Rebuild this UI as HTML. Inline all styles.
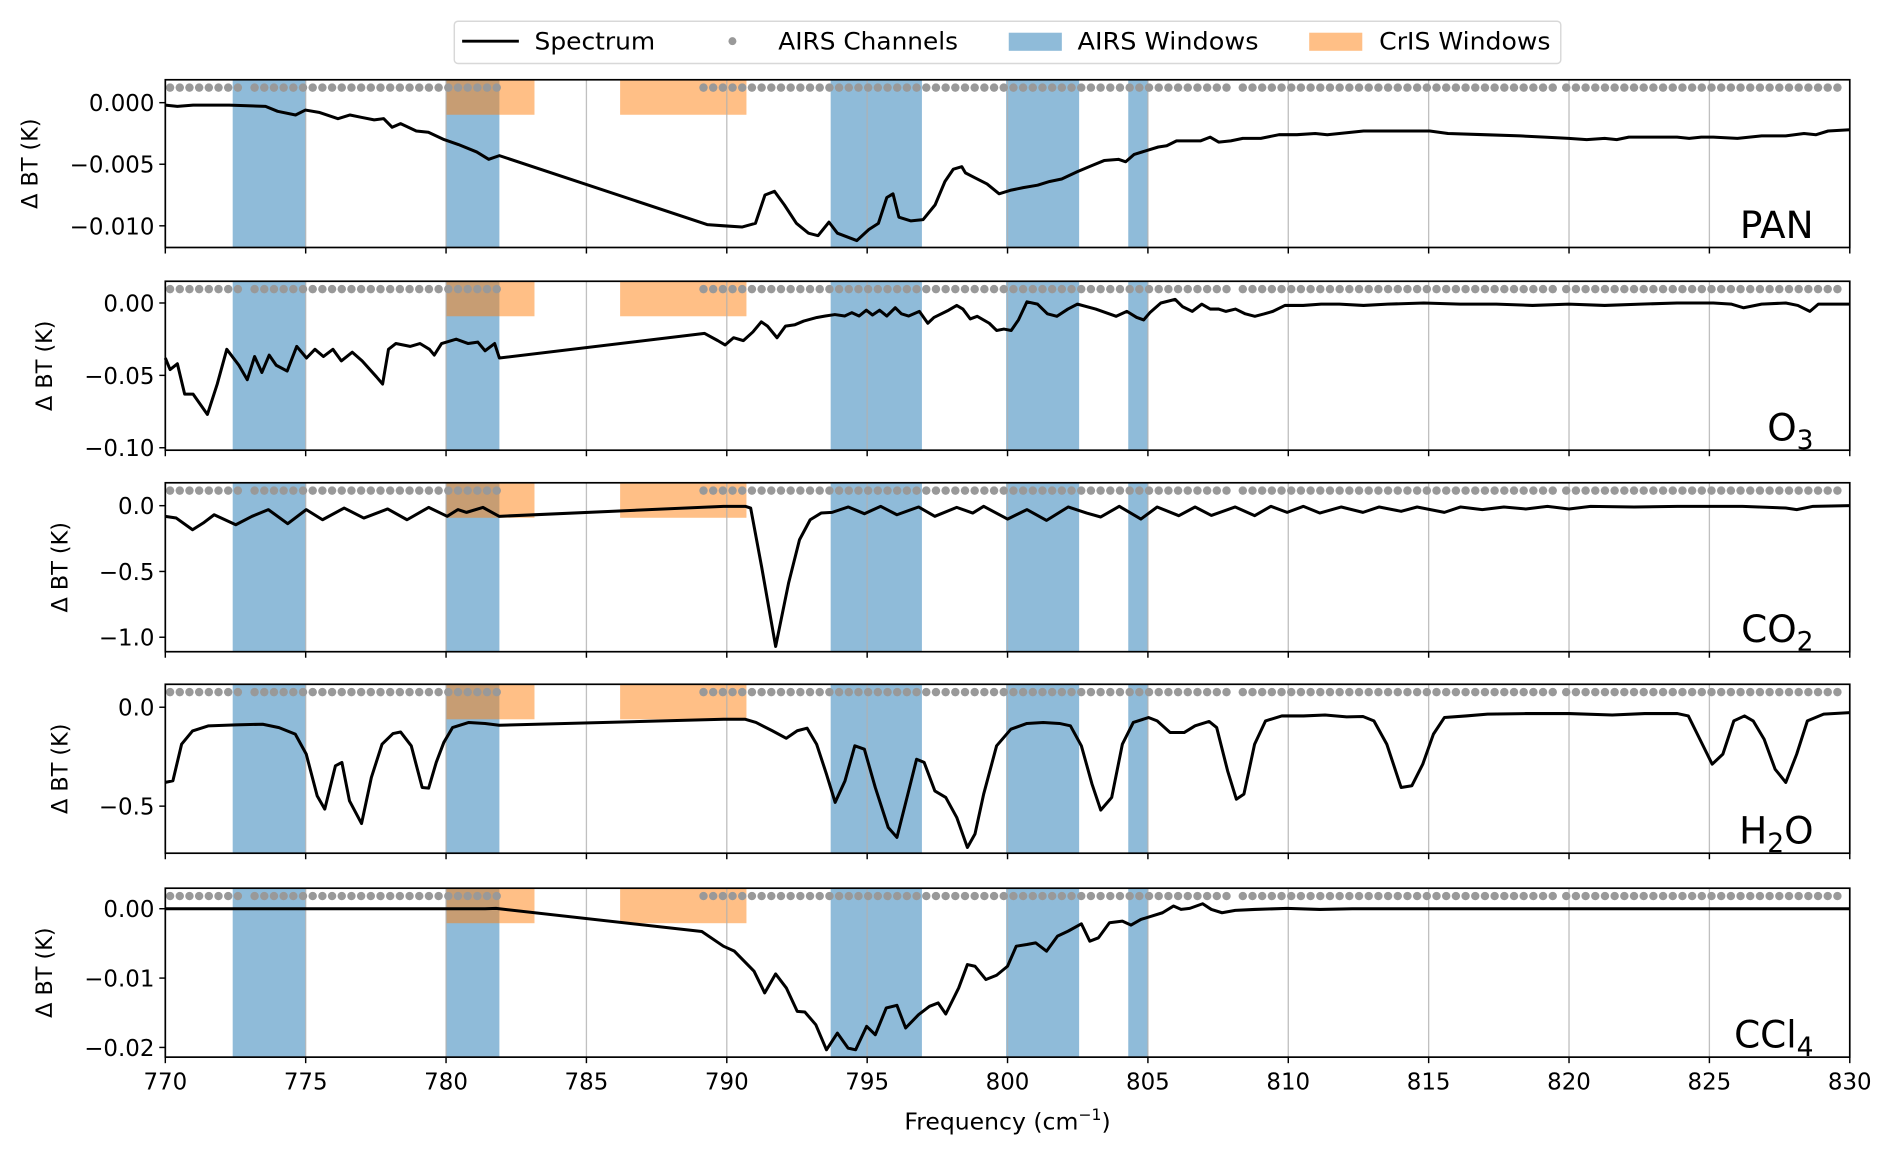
<!DOCTYPE html>
<html><head><meta charset="utf-8">
<style>
html,body{margin:0;padding:0;background:#fff;}
svg{display:block;font-family:"DejaVu Sans","Liberation Sans",sans-serif;}
</style></head>
<body>
<svg id="chart" width="1892" height="1155" viewBox="0 0 1568 957" xmlns="http://www.w3.org/2000/svg">
  <g id="legend">
    <rect x="376.5" y="17.5" width="917" height="35" rx="3" fill="#fff" stroke="#d8d8d8" stroke-width="1.2"/>
    <g>
      <line x1="383" y1="34" x2="430" y2="34" stroke="#000" stroke-width="2.4"/>
      <text x="443" y="41" font-size="20" textLength="100" lengthAdjust="spacingAndGlyphs">Spectrum</text>
    </g>
    <g>
      <circle cx="607" cy="34" r="3.3" fill="#999"/>
      <text x="645" y="41" font-size="20" textLength="149" lengthAdjust="spacingAndGlyphs">AIRS Channels</text>
    </g>
    <g>
      <rect x="836" y="27" width="44" height="15" fill="#8fbbd9"/>
      <text x="893" y="41" font-size="20" textLength="150" lengthAdjust="spacingAndGlyphs">AIRS Windows</text>
    </g>
    <g>
      <rect x="1085" y="27" width="44" height="15" fill="#ffbf86"/>
      <text x="1143" y="41" font-size="20" textLength="142" lengthAdjust="spacingAndGlyphs">CrIS Windows</text>
    </g>
  </g>
  <g id="panels"></g>
  <text x="835" y="936" font-size="19.5" text-anchor="middle">Frequency (cm<tspan font-size="13" dy="-8">−1</tspan><tspan dy="8">)</tspan></text>
</svg>
<script>
// ---------- data ----------
const xTicks = [770,775,780,785,790,795,800,805,810,815,820,825,830];
const airsWindows = [[772.4,775.0],[780.0,781.9],[793.7,796.95],[799.95,802.55],[804.3,805.0]];
const crisWindows = [[780.0,783.15],[786.2,790.7]];
const channelRanges = [[770.17,772.6,0.345],[773.18,781.9,0.345],[789.17,807.82,0.345],[808.38,819.47,0.345],[819.9,829.9,0.345]];

const panFreq = [770.0,770.43,770.99,772.28,773.57,774.0,774.64,774.99,775.5,776.15,776.58,777.0,777.44,777.78,778.08,778.38,778.94,779.37,779.93,780.44,781.09,781.52,781.9,789.3,789.9,790.54,791.02,791.36,791.7,792.05,792.48,792.91,793.25,793.64,793.94,794.63,795.06,795.4,795.7,795.92,796.13,796.56,796.99,797.42,797.77,798.07,798.37,798.5,798.84,799.27,799.7,800.13,800.56,801.07,801.5,801.93,802.49,803.01,803.44,803.95,804.21,804.51,804.94,805.37,805.67,806.02,806.45,806.88,807.22,807.52,807.95,808.38,809.02,809.67,810.31,810.96,811.39,811.82,812.25,812.68,813.54,815.04,815.69,816.98,818.27,819.13,819.99,820.63,821.27,821.7,822.13,822.99,823.85,824.28,824.71,825.14,826.0,826.86,827.72,828.37,828.8,829.23,830.0];
const panVals = [-0.0002,-0.0003,-0.0002,-0.0002,-0.0003,-0.0007,-0.001,-0.0006,-0.0008,-0.0013,-0.001,-0.0012,-0.0014,-0.0013,-0.002,-0.0017,-0.0023,-0.0024,-0.003,-0.0034,-0.004,-0.0046,-0.0043,-0.0099,-0.01,-0.0101,-0.0098,-0.0075,-0.0072,-0.0083,-0.0098,-0.0106,-0.0108,-0.0097,-0.0106,-0.0112,-0.0103,-0.0098,-0.0077,-0.0074,-0.0093,-0.0096,-0.0095,-0.0083,-0.0064,-0.0054,-0.0052,-0.0057,-0.0061,-0.0066,-0.0074,-0.0071,-0.0069,-0.0067,-0.0064,-0.0062,-0.0056,-0.0051,-0.0047,-0.0046,-0.0048,-0.0042,-0.0039,-0.0036,-0.0035,-0.0031,-0.0031,-0.0031,-0.0028,-0.0032,-0.0031,-0.0029,-0.0029,-0.0026,-0.0026,-0.0025,-0.0026,-0.0025,-0.0024,-0.0023,-0.0023,-0.0023,-0.0025,-0.0026,-0.0027,-0.0028,-0.0029,-0.003,-0.0029,-0.003,-0.0028,-0.0028,-0.0028,-0.0029,-0.0028,-0.0028,-0.0029,-0.0027,-0.0027,-0.0025,-0.0026,-0.0023,-0.0022];

const o3Freq = [770.0,770.17,770.43,770.69,770.99,771.5,771.85,772.19,772.62,772.92,773.18,773.44,773.7,773.95,774.34,774.68,775.03,775.33,775.63,775.97,776.27,776.66,777.01,777.52,777.74,777.95,778.21,778.72,779.07,779.41,779.58,779.84,780.36,780.79,781.13,781.39,781.73,781.9,789.21,789.68,789.94,790.24,790.59,790.93,791.23,791.45,791.79,792.09,792.43,792.74,793.21,793.51,793.85,794.2,794.45,794.71,794.97,795.19,795.44,795.7,796.0,796.22,796.48,796.86,797.16,797.38,797.9,798.19,798.41,798.67,798.92,799.35,799.61,799.87,800.13,800.39,800.69,801.07,801.42,801.76,802.15,802.49,803.14,803.87,804.25,804.6,804.85,805.07,805.46,805.97,806.23,806.58,806.92,807.22,807.52,807.78,808.12,808.47,808.81,809.15,809.45,809.88,810.53,811.17,811.82,812.68,813.54,814.83,816.12,817.41,818.7,819.99,821.27,822.56,823.85,825.14,825.79,826.22,826.86,827.72,828.15,828.58,828.88,830.0];
const o3Vals = [-0.038,-0.046,-0.042,-0.063,-0.063,-0.077,-0.056,-0.032,-0.043,-0.053,-0.037,-0.048,-0.036,-0.043,-0.047,-0.03,-0.038,-0.032,-0.037,-0.032,-0.04,-0.034,-0.04,-0.051,-0.056,-0.032,-0.028,-0.03,-0.028,-0.032,-0.036,-0.028,-0.025,-0.028,-0.027,-0.033,-0.028,-0.038,-0.021,-0.026,-0.029,-0.024,-0.026,-0.02,-0.013,-0.016,-0.024,-0.016,-0.015,-0.0125,-0.01,-0.009,-0.008,-0.009,-0.0067,-0.009,-0.005,-0.0083,-0.005,-0.009,-0.0033,-0.0075,-0.009,-0.0058,-0.014,-0.01,-0.005,-0.0017,-0.0042,-0.011,-0.0092,-0.014,-0.019,-0.018,-0.019,-0.0117,0.0008,-0.0008,-0.0075,-0.0092,-0.0042,-0.0008,-0.0042,-0.0092,-0.0058,-0.01,-0.0117,-0.0067,0.0,0.0025,-0.0025,-0.0058,-0.0008,-0.0042,-0.0042,-0.0058,-0.0042,-0.0075,-0.0092,-0.0075,-0.0058,-0.0017,-0.0017,-0.0008,-0.0008,-0.0017,-0.0008,0.0,-0.0008,-0.0008,-0.0017,-0.0008,-0.0017,-0.0008,0.0,0.0,-0.0008,-0.0033,-0.0008,0.0,-0.0017,-0.0058,-0.0008,-0.0008];

const co2Freq = [770.0,770.39,770.97,771.35,771.74,772.51,773.09,773.67,774.36,775.02,775.6,776.37,777.07,777.92,778.61,779.38,780.04,780.42,780.73,781.31,781.89,789.88,790.66,790.85,791.24,791.74,792.2,792.59,792.97,793.36,793.75,794.33,794.9,795.48,796.06,796.83,797.41,798.19,798.76,799.15,800.0,800.69,801.39,802.16,802.82,803.32,803.98,804.75,805.33,806.1,806.68,807.26,808.11,808.8,809.38,809.96,810.54,811.12,811.89,812.66,813.24,814.02,814.59,815.56,816.14,816.91,817.68,818.46,819.23,820.0,820.77,822.32,823.86,826.18,827.72,828.11,828.69,830.0];
const co2Vals = [-0.081,-0.094,-0.183,-0.132,-0.069,-0.145,-0.081,-0.03,-0.137,-0.03,-0.107,-0.018,-0.094,-0.025,-0.107,-0.013,-0.081,-0.03,-0.051,-0.013,-0.081,-0.005,-0.005,-0.018,-0.464,-1.07,-0.589,-0.259,-0.107,-0.056,-0.051,-0.01,-0.061,-0.005,-0.069,-0.01,-0.081,-0.013,-0.056,-0.005,-0.102,-0.03,-0.112,-0.01,-0.056,-0.086,-0.005,-0.102,-0.01,-0.076,-0.01,-0.074,-0.01,-0.076,-0.005,-0.051,-0.005,-0.056,-0.01,-0.051,-0.01,-0.043,-0.01,-0.051,-0.01,-0.03,-0.01,-0.025,-0.005,-0.025,-0.005,-0.01,-0.005,-0.005,-0.018,-0.03,-0.005,0.0];

const h2oFreq = [770.0,770.27,770.58,770.97,771.54,772.51,773.47,774.05,774.63,775.02,775.41,775.68,776.06,776.29,776.56,776.99,777.34,777.72,778.11,778.38,778.76,779.15,779.38,779.65,779.92,780.23,780.81,781.39,781.89,789.88,790.66,791.04,791.62,792.12,792.51,792.86,793.2,793.55,793.86,794.21,794.56,794.9,795.29,795.75,796.06,796.45,796.76,797.03,797.41,797.8,798.19,798.57,798.84,799.15,799.61,800.12,800.69,801.27,801.85,802.24,802.63,803.01,803.32,803.71,804.09,804.48,805.02,805.33,805.79,806.29,806.68,807.18,807.45,807.84,808.15,808.42,808.8,809.19,809.77,810.54,811.31,812.08,812.66,813.05,813.51,814.02,814.4,814.79,815.17,815.56,816.33,817.1,818.46,820.0,821.54,822.7,823.86,824.25,824.63,825.1,825.48,825.87,826.25,826.56,826.95,827.34,827.72,828.11,828.49,829.07,830.0];
const h2oVals = [-0.38,-0.372,-0.187,-0.12,-0.094,-0.089,-0.086,-0.103,-0.136,-0.237,-0.448,-0.515,-0.296,-0.279,-0.473,-0.588,-0.355,-0.187,-0.133,-0.125,-0.195,-0.406,-0.409,-0.279,-0.178,-0.103,-0.077,-0.082,-0.091,-0.061,-0.061,-0.077,-0.119,-0.157,-0.119,-0.106,-0.187,-0.338,-0.481,-0.372,-0.195,-0.212,-0.406,-0.608,-0.658,-0.439,-0.263,-0.279,-0.423,-0.456,-0.557,-0.709,-0.641,-0.439,-0.195,-0.111,-0.082,-0.077,-0.082,-0.094,-0.195,-0.389,-0.52,-0.456,-0.187,-0.077,-0.052,-0.069,-0.128,-0.128,-0.094,-0.072,-0.103,-0.322,-0.465,-0.439,-0.187,-0.069,-0.044,-0.044,-0.039,-0.049,-0.047,-0.069,-0.187,-0.406,-0.397,-0.288,-0.136,-0.052,-0.044,-0.035,-0.032,-0.032,-0.039,-0.032,-0.032,-0.044,-0.153,-0.288,-0.237,-0.069,-0.044,-0.069,-0.162,-0.313,-0.38,-0.237,-0.069,-0.035,-0.027];

const ccl4Freq = [770.0,781.39,781.78,789.11,789.88,790.27,790.97,791.35,791.74,792.12,792.51,792.78,793.17,793.55,793.94,794.32,794.59,794.98,795.29,795.68,796.06,796.37,796.83,797.22,797.53,797.8,798.26,798.57,798.84,799.23,799.61,800.0,800.31,800.69,801.0,801.39,801.78,802.16,802.63,802.93,803.24,803.63,804.09,804.4,804.75,805.14,805.52,805.91,806.18,806.49,806.95,807.26,807.64,808.11,808.8,809.96,811.12,812.28,830.0];
const ccl4Vals = [0,0,0.00005,-0.00328,-0.0054,-0.00612,-0.00901,-0.01214,-0.0094,-0.01142,-0.0148,-0.01489,-0.01672,-0.02034,-0.01793,-0.0201,-0.02034,-0.01696,-0.01817,-0.01431,-0.01393,-0.0172,-0.01528,-0.01407,-0.01359,-0.01518,-0.01142,-0.00805,-0.00829,-0.01021,-0.00959,-0.00829,-0.0054,-0.00516,-0.00492,-0.00612,-0.00395,-0.00323,-0.00217,-0.00468,-0.00419,-0.00202,-0.00178,-0.00236,-0.00154,-0.00106,-0.00058,0.00039,-0.0001,0.00005,0.00072,-0.0001,-0.00058,-0.00024,-0.0001,0.00005,-0.0001,0,0];

const panTicks = [0,-0.005,-0.010];
const panTickLabels = ["0.000","−0.005","−0.010"];
const o3Ticks = [0,-0.05,-0.10];
const o3TickLabels = ["0.00","−0.05","−0.10"];
const co2Ticks = [0,-0.5,-1.0];
const co2TickLabels = ["0.0","−0.5","−1.0"];
const h2oTicks = [0,-0.5];
const h2oTickLabels = ["0.0","−0.5"];
const ccl4Ticks = [0,-0.01,-0.02];
const ccl4TickLabels = ["0.00","−0.01","−0.02"];

// ---------- layout ----------
const X0 = 137, X1 = 1533, F0 = 770, F1 = 830;
function xs(f){ return X0 + (f - F0) / (F1 - F0) * (X1 - X0); }
const panels = [
  {id:'pan', label:'PAN', sub:'', top:66, bot:205, ymax:0.00186, ymin:-0.01176, freq:panFreq, vals:panVals, ticks:panTicks, tl:panTickLabels, ylx:25},
  {id:'o3', label:'O', sub:'3', top:233, bot:373, ymax:0.015, ymin:-0.1017, freq:o3Freq, vals:o3Vals, ticks:o3Ticks, tl:o3TickLabels, ylx:37},
  {id:'co2', label:'CO', sub:'2', top:400, bot:540, ymax:0.174, ymin:-1.11, freq:co2Freq, vals:co2Vals, ticks:co2Ticks, tl:co2TickLabels, ylx:50},
  {id:'h2o', label:'H', sub:'2', tail:'O', top:567, bot:707, ymax:0.116, ymin:-0.738, freq:h2oFreq, vals:h2oVals, ticks:h2oTicks, tl:h2oTickLabels, ylx:50},
  {id:'ccl4', label:'CCl', sub:'4', top:736, bot:876, ymax:0.00296, ymin:-0.0214, freq:ccl4Freq, vals:ccl4Vals, ticks:ccl4Ticks, tl:ccl4TickLabels, ylx:37}
];
const NS = 'http://www.w3.org/2000/svg';
function mk(tag, attrs, parent){
  const e = document.createElementNS(NS, tag);
  for (const k in attrs) e.setAttribute(k, attrs[k]);
  if (parent) parent.appendChild(e);
  return e;
}
const root = document.getElementById('panels');
const channels = [];
channelRanges.forEach(r => { for (let f = r[0]; f <= r[1] + 1e-6; f += r[2]) channels.push(f); });

panels.forEach((p, pi) => {
  const g = mk('g', {}, root);
  
  
  const ys = v => p.top + (p.ymax - v) / (p.ymax - p.ymin) * (p.bot - p.top);
  const crisBottom = p.top + 29;
  airsWindows.forEach(w => {
    const r = mk('rect', {x:xs(w[0]), y:p.top, width:xs(w[1]) - xs(w[0]), height:p.bot - p.top, fill:'#1f77b4', 'fill-opacity':0.5}, g);
    
    
  });
  crisWindows.forEach(w => {
    const r = mk('rect', {x:xs(w[0]), y:p.top, width:xs(w[1]) - xs(w[0]), height:crisBottom - p.top, fill:'#ff7f0e', 'fill-opacity':0.5}, g);
    
    
  });
  xTicks.forEach((t, i) => {
    if (i > 0 && i < xTicks.length - 1) {
      const l = mk('line', {x1:xs(t), x2:xs(t), y1:p.top, y2:p.bot, stroke:'#b0b0b0', 'stroke-width':1.1, 'stroke-opacity':0.8}, g);
      
      
    }
    const tk = mk('line', {x1:xs(t), x2:xs(t), y1:p.bot, y2:p.bot + 5, stroke:'#000', 'stroke-width':1.2}, g);
    
    
    if (pi === panels.length - 1) {
      const tx = mk('text', {x:xs(t), y:p.bot + 27, 'font-size':19, 'text-anchor':'middle'}, g);
      
      
      tx.textContent = String(t);
    }
  });
  const dy = p.top + 6.5;
  channels.forEach(f => {
    const c = mk('circle', {cx:xs(f), cy:dy, r:3.5, fill:'#999'}, g);
    
    
  });
  const d = p.freq.map((f, i) => (i ? 'L' : 'M') + xs(f).toFixed(2) + ',' + ys(p.vals[i]).toFixed(2)).join(' ');
  const path = mk('path', {d:d, fill:'none', stroke:'#000', 'stroke-width':2.5, 'stroke-linejoin':'round'}, g);
  
  
  const fr = mk('rect', {x:X0, y:p.top, width:X1 - X0, height:p.bot - p.top, fill:'none', stroke:'#000', 'stroke-width':1.4}, g);
  
  
  p.ticks.forEach((t, i) => {
    const y = ys(t);
    const tk = mk('line', {x1:X0 - 5, x2:X0, y1:y, y2:y, stroke:'#000', 'stroke-width':1.2}, g);
    
    
    const tx = mk('text', {x:X0 - 9, y:y + 7, 'font-size':19, 'text-anchor':'end'}, g);
    
    
    tx.textContent = p.tl[i];
  });
  const cy = (p.top + p.bot) / 2;
  const yl = mk('text', {x:p.ylx, y:cy, 'font-size':18.5, 'text-anchor':'middle', transform:'rotate(-90 ' + p.ylx + ' ' + cy + ')', dy:6}, g);
  
  
  yl.textContent = 'Δ BT (K)';
  const lab = mk('text', {x:1503, y:p.bot - 8, 'font-size':31, 'text-anchor':'end'}, g);
  
  
  lab.appendChild(document.createTextNode(p.label));
  if (p.sub) {
    const s = mk('tspan', {'font-size':22, dy:7}, lab);
    s.textContent = p.sub;
    if (p.tail) {
      const t2 = mk('tspan', {dy:-7}, lab);
      t2.textContent = p.tail;
    }
  }
});
</script>
</body></html>
